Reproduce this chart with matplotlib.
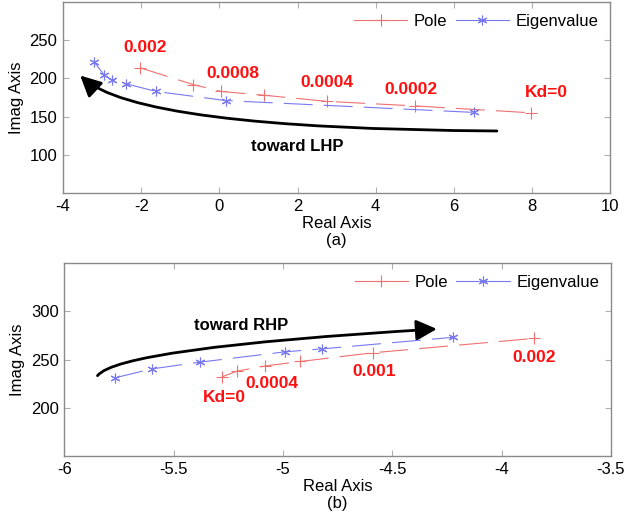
import numpy as np
import matplotlib
matplotlib.use("Agg")
import matplotlib.pyplot as plt
from matplotlib.path import Path
from matplotlib.patches import FancyArrowPatch

plt.rc('font', **{'size': 10, 'family': 'sans-serif', 'sans-serif': ['Liberation Sans', 'DejaVu Sans']})
plt.rc('axes', unicode_minus=False)

# (a) damping sweep toward the left half plane
A_POLE_RE = [-2.03, -0.67, 0.04, 1.15, 2.75, 5.01, 7.97]
A_POLE_IM = [214, 192, 183, 178, 170, 164, 155]
A_EIG_RE = [-3.21, -2.94, -2.74, -2.39, -1.62, 0.17, 6.52]
A_EIG_IM = [222, 204, 198, 193, 183, 171, 155.5]
A_LABELS = ['0.002', '0.0008', '0.0004', '0.0002', 'Kd=0']
A_LABEL_XY = [(-1.90, 241), (0.34, 207), (2.75, 195), (4.91, 186), (8.36, 181)]
A_ARROW = [(7.10, 131.2), (-2.1, 134), (-3.56, 203.8)]
A_NOTE = ('toward LHP', (1.98, 111))

# (b) damping sweep toward the right half plane
B_POLE_RE = [-5.28, -5.21, -5.08, -4.92, -4.59, -3.85]
B_POLE_IM = [232, 238, 243.4, 248, 257, 272]
B_EIG_RE = [-5.77, -5.60, -5.38, -4.99, -4.82, -4.22]
B_EIG_IM = [231, 240.3, 247.3, 258, 261.1, 273.1]
B_LABELS = ['Kd=0', '0.0004', '0.001', '0.002']
B_LABEL_XY = [(-5.27, 210.6), (-5.05, 225), (-4.585, 238), (-3.85, 252.5)]
B_ARROW = [(-5.848, 233.3), (-5.75, 262), (-4.296, 281.7)]
B_NOTE = ('toward RHP', (-5.19, 285.6))

POLE_C = '#f07070'
EIG_C = '#7878f0'
SPINE_C = '#8a8a8a'
ASTERISK = (6, 2, 0)


def style_axes(ax):
    for s in ax.spines.values():
        s.set_color(SPINE_C)
        s.set_linewidth(1.0)
    ax.tick_params(direction='in', top=True, right=True, length=4,
                   color='#b0b0b0', labelsize=12, pad=4)


def draw_panel(ax, pre, pim, ere, eim, labels, label_xy, arrow, note):
    ax.plot(pre, pim, color=POLE_C, lw=0.8, marker='+', ms=9, mew=0.8,
            dashes=(26, 10), label='Pole')
    ax.plot(ere, eim, color=EIG_C, lw=0.8, marker=ASTERISK, ms=7, mew=0.8,
            dashes=(26, 10), label='Eigenvalue')
    for txt, (x, y) in zip(labels, label_xy):
        ax.text(x, y, txt, color='#ff1010', fontsize=12.5, fontweight='bold',
                ha='center', va='center')
    curve = Path(arrow, [Path.MOVETO, Path.CURVE3, Path.CURVE3])
    ax.add_patch(FancyArrowPatch(path=curve, arrowstyle='-|>,head_length=0.7,head_width=0.35',
                                 mutation_scale=18, lw=2.0, color='black'))
    ax.text(note[1][0], note[1][1], note[0], fontsize=12, fontweight='bold',
            ha='center', va='center')
    leg = ax.legend(loc='upper right', ncol=2, frameon=False, fontsize=12,
                    handlelength=3.2, columnspacing=0.5, handletextpad=0.4,
                    borderaxespad=0.3)
    for ln in leg.get_lines():
        ln.set_linestyle('-')
    ax.set_ylabel('Imag Axis', fontsize=12)
    style_axes(ax)


fig = plt.figure(figsize=(6.24, 5.23), dpi=100)
ax1 = fig.add_axes([0.101, 0.631, 0.877, 0.365])
ax2 = fig.add_axes([0.103, 0.128, 0.876, 0.369])

draw_panel(ax1, A_POLE_RE, A_POLE_IM, A_EIG_RE, A_EIG_IM,
           A_LABELS, A_LABEL_XY, A_ARROW, A_NOTE)
ax1.set_xlim(-4, 10)
ax1.set_ylim(50, 300)
ax1.set_xticks(np.arange(-4, 11, 2))
ax1.set_yticks([100, 150, 200, 250])
ax1.set_xlabel('Real Axis\n(a)', fontsize=12, linespacing=1.15, labelpad=2)

draw_panel(ax2, B_POLE_RE, B_POLE_IM, B_EIG_RE, B_EIG_IM,
           B_LABELS, B_LABEL_XY, B_ARROW, B_NOTE)
ax2.set_xlim(-6, -3.5)
ax2.set_ylim(150, 350)
ax2.set_xticks([-6, -5.5, -5, -4.5, -4, -3.5])
ax2.set_xticklabels(['-6', '-5.5', '-5', '-4.5', '-4', '-3.5'])
ax2.set_yticks([200, 250, 300])
ax2.set_xlabel('Real Axis\n(b)', fontsize=12, linespacing=1.15, labelpad=2)

fig.savefig('out.png', dpi=100)
